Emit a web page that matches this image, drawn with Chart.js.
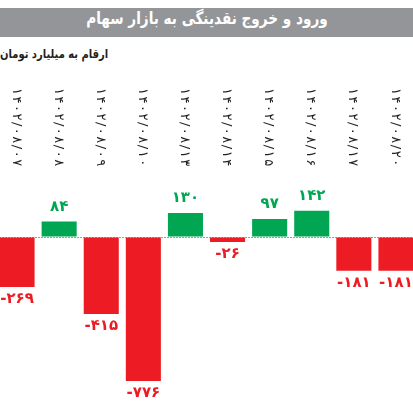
<!DOCTYPE html>
<html lang="fa">
<head>
<meta charset="utf-8">
<script src="https://cdn.jsdelivr.net/npm/chart.js@4.4.1/dist/chart.umd.min.js"></script>
<style>
  html, body { margin: 0; padding: 0; width: 413px; height: 410px; overflow: hidden; background: #fff; }
  #title {
    position: absolute; left: 0; top: 8px; width: 413px; height: 29px;
    background: #939598; color: #fff; text-align: center; line-height: 29px;
    font: bold 17px "DejaVu Sans"; direction: rtl;
  }
  #title span { display: inline-block; transform: scaleX(0.8); }
  #sub {
    position: absolute; left: 0; top: 47px; direction: rtl;
    font: bold 12px "DejaVu Sans"; color: #231f20;
    transform: scaleX(0.83); transform-origin: left center;
  }
  #wrap { position: absolute; left: -4px; top: 0; width: 421px; height: 410px; }
</style>
</head>
<body>
<div id="title"><span>ورود و خروج نقدینگی به بازار سهام</span></div>
<div id="sub">ارقام به میلیارد تومان</div>
<div id="wrap"><canvas id="chart"></canvas></div>
<script>
const dates = ['۱۴۰۲/۰۸/۰۷', '۱۴۰۲/۰۸/۰۸', '۱۴۰۲/۰۸/۰۹', '۱۴۰۲/۰۸/۱۰', '۱۴۰۲/۰۸/۱۳',
               '۱۴۰۲/۰۸/۱۴', '۱۴۰۲/۰۸/۱۵', '۱۴۰۲/۰۸/۱۶', '۱۴۰۲/۰۸/۱۷', '۱۴۰۲/۰۸/۲۰'];
const flows = [-269, 84, -415, -776, 130, -26, 97, 142, -181, -181];

const green = '#00a651';
const red = '#ed1c24';

const faDigits = '۰۱۲۳۴۵۶۷۸۹';
const toFa = n => String(n).replace(/\d/g, d => faDigits[d]);

// dates on top (rotated) + value labels next to each bar
const barLabels = {
  id: 'barLabels',
  afterDatasetsDraw(chart) {
    const ctx = chart.ctx;
    const xScale = chart.scales.x;
    const meta = chart.getDatasetMeta(0);
    ctx.save();
    ctx.direction = 'ltr';

    ctx.font = '13px "DejaVu Sans"';
    ctx.fillStyle = '#231f20';
    ctx.textAlign = 'left';
    ctx.textBaseline = 'middle';
    dates.forEach((d, i) => {
      ctx.save();
      ctx.translate(xScale.getPixelForValue(i) - 1, 88);
      ctx.rotate(Math.PI / 2);
      // one glyph at a time so the year stays on top
      let pos = 0;
      for (const ch of d) {
        ctx.fillText(ch, pos, 0);
        pos += ctx.measureText(ch).width + 1.5;
      }
      ctx.restore();
    });

    ctx.font = 'bold 15px "DejaVu Sans"';
    ctx.textAlign = 'center';
    meta.data.forEach((bar, i) => {
      const v = flows[i];
      ctx.fillStyle = v >= 0 ? green : red;
      if (v >= 0) {
        ctx.textBaseline = 'bottom';
        ctx.fillText(toFa(v), bar.x, bar.y - 7);
      } else {
        ctx.textBaseline = 'top';
        ctx.fillText('-' + toFa(-v), bar.x, bar.y + 5);
      }
    });
    ctx.restore();
  }
};

new Chart(document.getElementById('chart'), {
  type: 'bar',
  data: {
    labels: dates,
    datasets: [{
      data: flows,
      backgroundColor: flows.map(v => v >= 0 ? green : red),
      borderWidth: 0,
      categoryPercentage: 1,
      barPercentage: 0.833
    }]
  },
  options: {
    responsive: true,
    maintainAspectRatio: false,
    animation: false,
    layout: { padding: { top: 200, bottom: 6, left: 0, right: 0 } },
    plugins: {
      legend: { display: false },
      tooltip: { enabled: false }
    },
    scales: {
      x: { display: false },
      y: {
        min: -900,
        max: 200,
        ticks: { display: false, stepSize: 100 },
        border: { display: false, dash: [2, 1] },
        grid: {
          drawTicks: false,
          color: ctx => ctx.tick && ctx.tick.value === 0 ? '#9d9d9d' : 'transparent',
          lineWidth: 1
        },
        afterFit: s => { s.width = 0; }
      }
    }
  },
  plugins: [barLabels]
});
</script>
</body>
</html>
